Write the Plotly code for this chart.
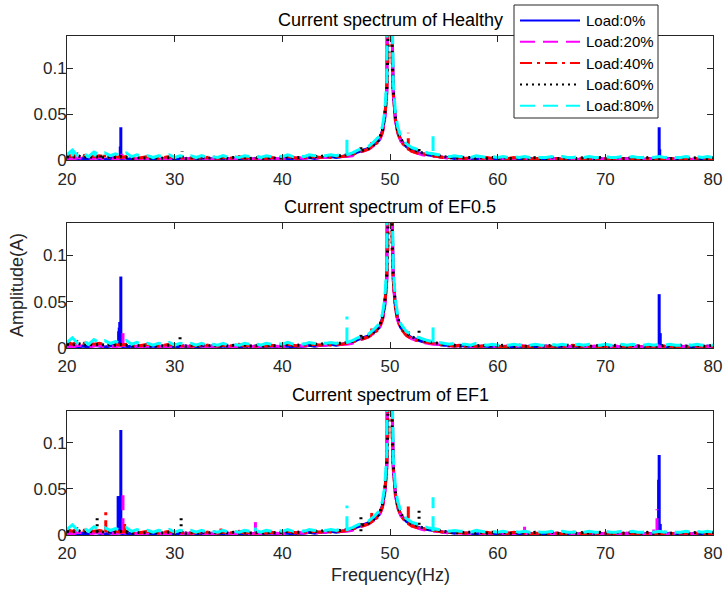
import plotly.graph_objects as go

# ---------------- data ----------------
LOADS = ["Load:0%", "Load:20%", "Load:40%", "Load:60%", "Load:80%"]
X_TICKS = [20, 30, 40, 50, 60, 70, 80]
Y_TICKS = [0, 0.05, 0.1]
Y_TICKTEXT = ["0", "0.05", "0.1"]
TITLES = ["Current spectrum of Healthy", "Current spectrum of EF0.5", "Current spectrum of EF1"]

FREQ_LOW = [20.0, 20.5, 21.0, 21.5, 22.0, 22.5, 23.0, 23.5, 24.0, 24.5,
            25.0, 25.5, 26.0, 26.5, 27.0, 27.5, 28.0, 28.5, 29.0, 29.5,
            30.0, 30.5, 31.0, 31.5, 32.0, 32.5, 33.0, 33.5, 34.0, 34.5,
            35.0, 35.5, 36.0, 36.5, 37.0, 37.5, 38.0, 38.5, 39.0, 39.5,
            40.0, 40.5, 41.0, 41.5, 42.0, 42.5, 43.0, 43.5, 44.0, 44.5,
            45.0, 45.5, 46.0, 46.5]
FREQ_PEAK = [47.0, 47.5, 48.0, 48.5, 49.0, 49.3, 49.5, 49.7, 49.8, 49.9,
             50.0, 50.1, 50.2, 50.3, 50.5, 50.7, 51.0, 51.5, 52.0, 52.5,
             53.0, 53.5, 54.0]
FREQ_HIGH = [54.5, 55.0, 55.5, 56.0, 56.5, 57.0, 57.5, 58.0, 58.5, 59.0,
             59.5, 60.0, 60.5, 61.0, 61.5, 62.0, 62.5, 63.0, 63.5, 64.0,
             64.5, 65.0, 65.5, 66.0, 66.5, 67.0, 67.5, 68.0, 68.5, 69.0,
             69.5, 70.0, 70.5, 71.0, 71.5, 72.0, 72.5, 73.0, 73.5, 74.0,
             74.5, 75.0, 75.5, 76.0, 76.5, 77.0, 77.5, 78.0, 78.5, 79.0,
             79.5, 80.0]

# background spectrum (A), low band 20-46.5 Hz
LOW_0 = [0.002, 0.003, 0.001, 0.002, 0.001, 0.003, 0.002, 0.001, 0.002, 0.003,
         0.002, 0.001, 0.002, 0.001, 0.002, 0.001, 0.002, 0.001, 0.002, 0.001,
         0.002, 0.001, 0.002, 0.001, 0.001, 0.002, 0.001, 0.002, 0.001, 0.002,
         0.001, 0.002, 0.001, 0.002, 0.001, 0.002, 0.001, 0.002, 0.002, 0.001,
         0.002, 0.002, 0.001, 0.002, 0.002, 0.003, 0.002, 0.003, 0.003, 0.004,
         0.003, 0.004, 0.005, 0.006]
LOW_20 = [0.002, 0.001, 0.003, 0.002, 0.001, 0.002, 0.003, 0.001, 0.002, 0.001,
          0.003, 0.002, 0.001, 0.002, 0.001, 0.002, 0.002, 0.001, 0.002, 0.001,
          0.002, 0.001, 0.002, 0.002, 0.001, 0.002, 0.001, 0.002, 0.001, 0.002,
          0.002, 0.001, 0.002, 0.001, 0.002, 0.001, 0.002, 0.001, 0.002, 0.002,
          0.001, 0.002, 0.002, 0.003, 0.002, 0.003, 0.002, 0.003, 0.003, 0.004,
          0.003, 0.004, 0.004, 0.005]
LOW_40 = [0.006, 0.004, 0.007, 0.005, 0.006, 0.004, 0.005, 0.004, 0.003, 0.004,
          0.003, 0.004, 0.003, 0.002, 0.003, 0.004, 0.003, 0.002, 0.003, 0.004,
          0.003, 0.002, 0.003, 0.002, 0.003, 0.002, 0.003, 0.004, 0.002, 0.003,
          0.002, 0.003, 0.004, 0.002, 0.003, 0.002, 0.003, 0.002, 0.003, 0.002,
          0.003, 0.004, 0.003, 0.002, 0.003, 0.003, 0.004, 0.003, 0.004, 0.003,
          0.004, 0.004, 0.005, 0.006]
LOW_60 = [0.004, 0.003, 0.005, 0.003, 0.004, 0.003, 0.004, 0.003, 0.004, 0.003,
          0.004, 0.003, 0.002, 0.003, 0.002, 0.003, 0.002, 0.003, 0.002, 0.003,
          0.002, 0.003, 0.002, 0.003, 0.002, 0.003, 0.002, 0.003, 0.002, 0.003,
          0.002, 0.003, 0.002, 0.003, 0.002, 0.003, 0.002, 0.003, 0.003, 0.002,
          0.003, 0.004, 0.003, 0.003, 0.004, 0.003, 0.004, 0.004, 0.005, 0.004,
          0.005, 0.005, 0.006, 0.007]
LOW_80 = [0.006, 0.011, 0.005, 0.008, 0.004, 0.009, 0.006, 0.008, 0.005, 0.007,
          0.005, 0.008, 0.004, 0.006, 0.004, 0.005, 0.003, 0.005, 0.004, 0.006,
          0.003, 0.005, 0.004, 0.005, 0.003, 0.005, 0.003, 0.004, 0.003, 0.005,
          0.003, 0.004, 0.003, 0.005, 0.004, 0.005, 0.003, 0.005, 0.004, 0.005,
          0.004, 0.006, 0.004, 0.005, 0.004, 0.006, 0.005, 0.006, 0.005, 0.006,
          0.005, 0.007, 0.006, 0.008]

# fundamental (50 Hz) region 47-54 Hz
PEAK_0 = [0.009, 0.011, 0.013, 0.017, 0.022, 0.032, 0.045, 0.075, 0.110, 0.220,
          0.600, 0.220, 0.110, 0.075, 0.045, 0.032, 0.022, 0.015, 0.011, 0.009,
          0.007, 0.006, 0.005]
PEAK_20 = [0.008, 0.010, 0.012, 0.016, 0.021, 0.030, 0.043, 0.072, 0.105, 0.210,
           0.600, 0.210, 0.105, 0.072, 0.043, 0.030, 0.021, 0.014, 0.010, 0.008,
           0.006, 0.005, 0.004]
PEAK_40 = [0.009, 0.010, 0.012, 0.016, 0.021, 0.031, 0.044, 0.073, 0.108, 0.215,
           0.600, 0.215, 0.108, 0.073, 0.044, 0.031, 0.021, 0.014, 0.010, 0.008,
           0.007, 0.006, 0.005]
PEAK_60 = [0.010, 0.011, 0.013, 0.017, 0.023, 0.033, 0.047, 0.078, 0.115, 0.230,
           0.600, 0.230, 0.115, 0.078, 0.047, 0.033, 0.023, 0.016, 0.012, 0.010,
           0.008, 0.007, 0.006]
PEAK_80 = [0.011, 0.013, 0.015, 0.020, 0.026, 0.037, 0.052, 0.085, 0.125, 0.250,
           0.600, 0.250, 0.125, 0.085, 0.052, 0.037, 0.026, 0.018, 0.014, 0.012,
           0.010, 0.008, 0.007]

# high band 54.5-80 Hz
HIGH_0 = [0.004, 0.003, 0.003, 0.002, 0.003, 0.002, 0.002, 0.001, 0.002, 0.002,
          0.001, 0.002, 0.001, 0.002, 0.001, 0.002, 0.001, 0.002, 0.001, 0.001,
          0.002, 0.001, 0.002, 0.001, 0.001, 0.002, 0.001, 0.002, 0.001, 0.001,
          0.002, 0.001, 0.002, 0.001, 0.001, 0.002, 0.001, 0.002, 0.001, 0.002,
          0.001, 0.002, 0.001, 0.002, 0.001, 0.002, 0.001, 0.001, 0.002, 0.001,
          0.002, 0.001]
HIGH_20 = [0.004, 0.003, 0.002, 0.003, 0.002, 0.002, 0.001, 0.002, 0.002, 0.001,
           0.002, 0.001, 0.002, 0.002, 0.001, 0.003, 0.002, 0.001, 0.002, 0.001,
           0.002, 0.001, 0.002, 0.001, 0.002, 0.001, 0.001, 0.002, 0.001, 0.002,
           0.001, 0.002, 0.001, 0.002, 0.001, 0.002, 0.001, 0.002, 0.001, 0.001,
           0.002, 0.001, 0.002, 0.001, 0.002, 0.001, 0.002, 0.001, 0.001, 0.002,
           0.001, 0.002]
HIGH_40 = [0.004, 0.003, 0.003, 0.002, 0.003, 0.002, 0.003, 0.002, 0.002, 0.003,
           0.002, 0.002, 0.001, 0.002, 0.003, 0.002, 0.002, 0.001, 0.002, 0.002,
           0.001, 0.002, 0.002, 0.001, 0.002, 0.003, 0.002, 0.001, 0.002, 0.002,
           0.001, 0.002, 0.002, 0.001, 0.002, 0.002, 0.001, 0.002, 0.001, 0.002,
           0.002, 0.001, 0.002, 0.002, 0.001, 0.002, 0.002, 0.001, 0.002, 0.002,
           0.001, 0.002]
HIGH_60 = [0.005, 0.004, 0.003, 0.003, 0.002, 0.003, 0.003, 0.002, 0.003, 0.002,
           0.003, 0.002, 0.003, 0.002, 0.002, 0.003, 0.002, 0.002, 0.003, 0.002,
           0.002, 0.003, 0.002, 0.002, 0.003, 0.002, 0.002, 0.003, 0.002, 0.002,
           0.003, 0.002, 0.002, 0.003, 0.002, 0.002, 0.003, 0.002, 0.002, 0.003,
           0.002, 0.002, 0.003, 0.002, 0.002, 0.003, 0.002, 0.002, 0.003, 0.002,
           0.002, 0.003]
HIGH_80 = [0.006, 0.005, 0.004, 0.005, 0.004, 0.004, 0.003, 0.005, 0.004, 0.003,
           0.004, 0.003, 0.004, 0.003, 0.004, 0.003, 0.004, 0.003, 0.004, 0.003,
           0.003, 0.004, 0.003, 0.004, 0.003, 0.003, 0.004, 0.003, 0.004, 0.003,
           0.003, 0.004, 0.003, 0.003, 0.004, 0.003, 0.004, 0.003, 0.003, 0.004,
           0.003, 0.004, 0.003, 0.004, 0.003, 0.003, 0.004, 0.003, 0.004, 0.003,
           0.004, 0.003]

# spectral lines (frequency Hz, low A, high A) per load: 0%,20%,40%,60%,80%
HEALTHY_LINES = [
    [(24.95, 0.002, 0.015), (25.0, 0.002, 0.036), (75.0, 0.002, 0.036), (75.05, 0.002, 0.012)],
    [(25.1, 0.002, 0.007), (62.5, 0.002, 0.004)],
    [(23.5, 0.003, 0.006), (48.3, 0.014, 0.020), (51.7, 0.011, 0.030)],
    [(23.1, 0.003, 0.007), (30.7, 0.003, 0.010), (47.3, 0.012, 0.018), (52.7, 0.010, 0.016)],
    [(20.5, 0.004, 0.012), (22.6, 0.004, 0.009), (46.0, 0.006, 0.028), (54.0, 0.010, 0.026)],
]
EF05_LINES = [
    [(24.8, 0.002, 0.018), (24.85, 0.002, 0.022), (24.9, 0.002, 0.028), (25.0, 0.002, 0.077),
     (75.0, 0.002, 0.058), (75.1, 0.002, 0.016)],
    [(25.2, 0.002, 0.016), (74.9, 0.002, 0.004)],
    [(20.2, 0.004, 0.007), (48.3, 0.014, 0.021), (51.7, 0.011, 0.018)],
    [(30.2, 0.003, 0.008), (30.5, 0.003, 0.016), (47.3, 0.012, 0.018), (52.7, 0.010, 0.019)],
    [(46.0, 0.006, 0.034), (54.0, 0.006, 0.030)],
]
EF1_LINES = [
    [(24.75, 0.002, 0.042), (24.8, 0.002, 0.042), (24.85, 0.002, 0.042), (24.9, 0.002, 0.042),
     (25.0, 0.002, 0.114), (74.95, 0.002, 0.060), (75.0, 0.002, 0.087), (75.1, 0.002, 0.012)],
    [(24.6, 0.002, 0.006), (25.2, 0.002, 0.045), (37.5, 0.003, 0.014), (62.5, 0.002, 0.009),
     (74.5, 0.002, 0.006), (74.8, 0.002, 0.028)],
    [(23.6, 0.003, 0.026), (25.35, 0.003, 0.012), (34.3, 0.003, 0.007), (48.3, 0.013, 0.024),
     (51.7, 0.018, 0.036)],
    [(22.8, 0.003, 0.021), (25.6, 0.003, 0.008), (30.6, 0.003, 0.020), (47.3, 0.004, 0.022),
     (52.7, 0.011, 0.030)],
    [(37.5, 0.004, 0.008), (46.0, 0.004, 0.032), (54.0, 0.004, 0.041)],
]

LOW = [LOW_0, LOW_20, LOW_40, LOW_60, LOW_80]
PEAK = [PEAK_0, PEAK_20, PEAK_40, PEAK_60, PEAK_80]
HIGH = [HIGH_0, HIGH_20, HIGH_40, HIGH_60, HIGH_80]
LINES = [HEALTHY_LINES, EF05_LINES, EF1_LINES]

# ---------------- style ----------------
COLORS = ["#0000ff", "#ff00ff", "#ff0000", "#000000", "#00ffff"]
DASHES = ["solid", "15px,8px", "12px,5px,3px,5px", "2px,4px", "15px,8px"]
LW = 3
W, H = 725, 589
FONT = "Arial, 'Liberation Sans', Helvetica, sans-serif"
AX = "#262626"

def px(x):
    return x / W

def py(y):
    return 1 - y / H

X_DOM = [px(67), px(713)]
Y_DOMS = [(36, 160.3), (222.7, 348), (410.7, 535)]

fig = go.Figure()
for p in range(3):
    suffix = "" if p == 0 else str(p + 1)
    for k in range(5):
        xs = FREQ_LOW + FREQ_PEAK + FREQ_HIGH
        ys = LOW[k] + PEAK[k] + HIGH[k]
        for f, lo, hi in LINES[p][k]:
            xs = xs + [None, f, f]
            ys = ys + [None, lo, hi]
        fig.add_trace(go.Scatter(
            x=xs, y=ys, mode="lines", name=LOADS[k], showlegend=False,
            line=dict(color=COLORS[k], width=LW, dash=DASHES[k]),
            xaxis="x" + suffix, yaxis="y" + suffix, hoverinfo="skip"))

    top, bot = Y_DOMS[p]
    axis_common = dict(showline=True, linecolor=AX, linewidth=1, mirror="ticks",
                       ticks="inside", ticklen=6, tickcolor=AX, tickwidth=1,
                       showgrid=False, zeroline=False, automargin=False,
                       tickfont=dict(family=FONT, size=17, color=AX))
    fig.update_layout(**{
        "xaxis" + suffix: dict(domain=X_DOM, range=[20, 80], tickvals=X_TICKS,
                               anchor="y" + suffix, ticklabelstandoff=3, **axis_common),
        "yaxis" + suffix: dict(domain=[py(bot), py(top)], range=[0, 0.135],
                               tickvals=Y_TICKS, ticktext=Y_TICKTEXT,
                               anchor="x" + suffix, ticklabelstandoff=-4, **axis_common),
    })
    fig.add_annotation(text=TITLES[p], xref="paper", yref="paper",
                       x=(X_DOM[0] + X_DOM[1]) / 2, y=py(top - 16),
                       xanchor="center", yanchor="middle", showarrow=False,
                       font=dict(family=FONT, size=18, color="#000000"))

fig.add_annotation(text="Amplitude(A)", xref="paper", yref="paper",
                   x=px(17), y=py(285), textangle=-90, showarrow=False,
                   xanchor="center", yanchor="middle",
                   font=dict(family=FONT, size=18, color=AX))
fig.add_annotation(text="Frequency(Hz)", xref="paper", yref="paper",
                   x=px(390), y=py(575), showarrow=False,
                   xanchor="center", yanchor="middle",
                   font=dict(family=FONT, size=18, color=AX))

# legend box (drawn manually to match long line samples)
fig.add_shape(type="rect", xref="paper", yref="paper",
              x0=px(514), x1=px(658), y0=py(118), y1=py(5),
              line=dict(color=AX, width=1), fillcolor="white", layer="above")
for k in range(5):
    yy = 20.5 + 21.3 * k
    fig.add_shape(type="line", xref="paper", yref="paper",
                  x0=px(520), x1=px(580), y0=py(yy), y1=py(yy),
                  line=dict(color=COLORS[k], width=2, dash=DASHES[k]), layer="above")
    fig.add_annotation(text=LOADS[k], xref="paper", yref="paper",
                       x=px(584), y=py(yy), xanchor="left", yanchor="middle",
                       showarrow=False, font=dict(family=FONT, size=15, color="#000000"))

fig.update_layout(width=W, height=H, autosize=False,
                  margin=dict(l=0, r=0, t=0, b=0, autoexpand=False),
                  paper_bgcolor="white", plot_bgcolor="white",
                  showlegend=False)

fig.write_html("out.html", config={"displayModeBar": False},
               post_script="document.body.style.margin='0';document.body.style.overflow='hidden';")
